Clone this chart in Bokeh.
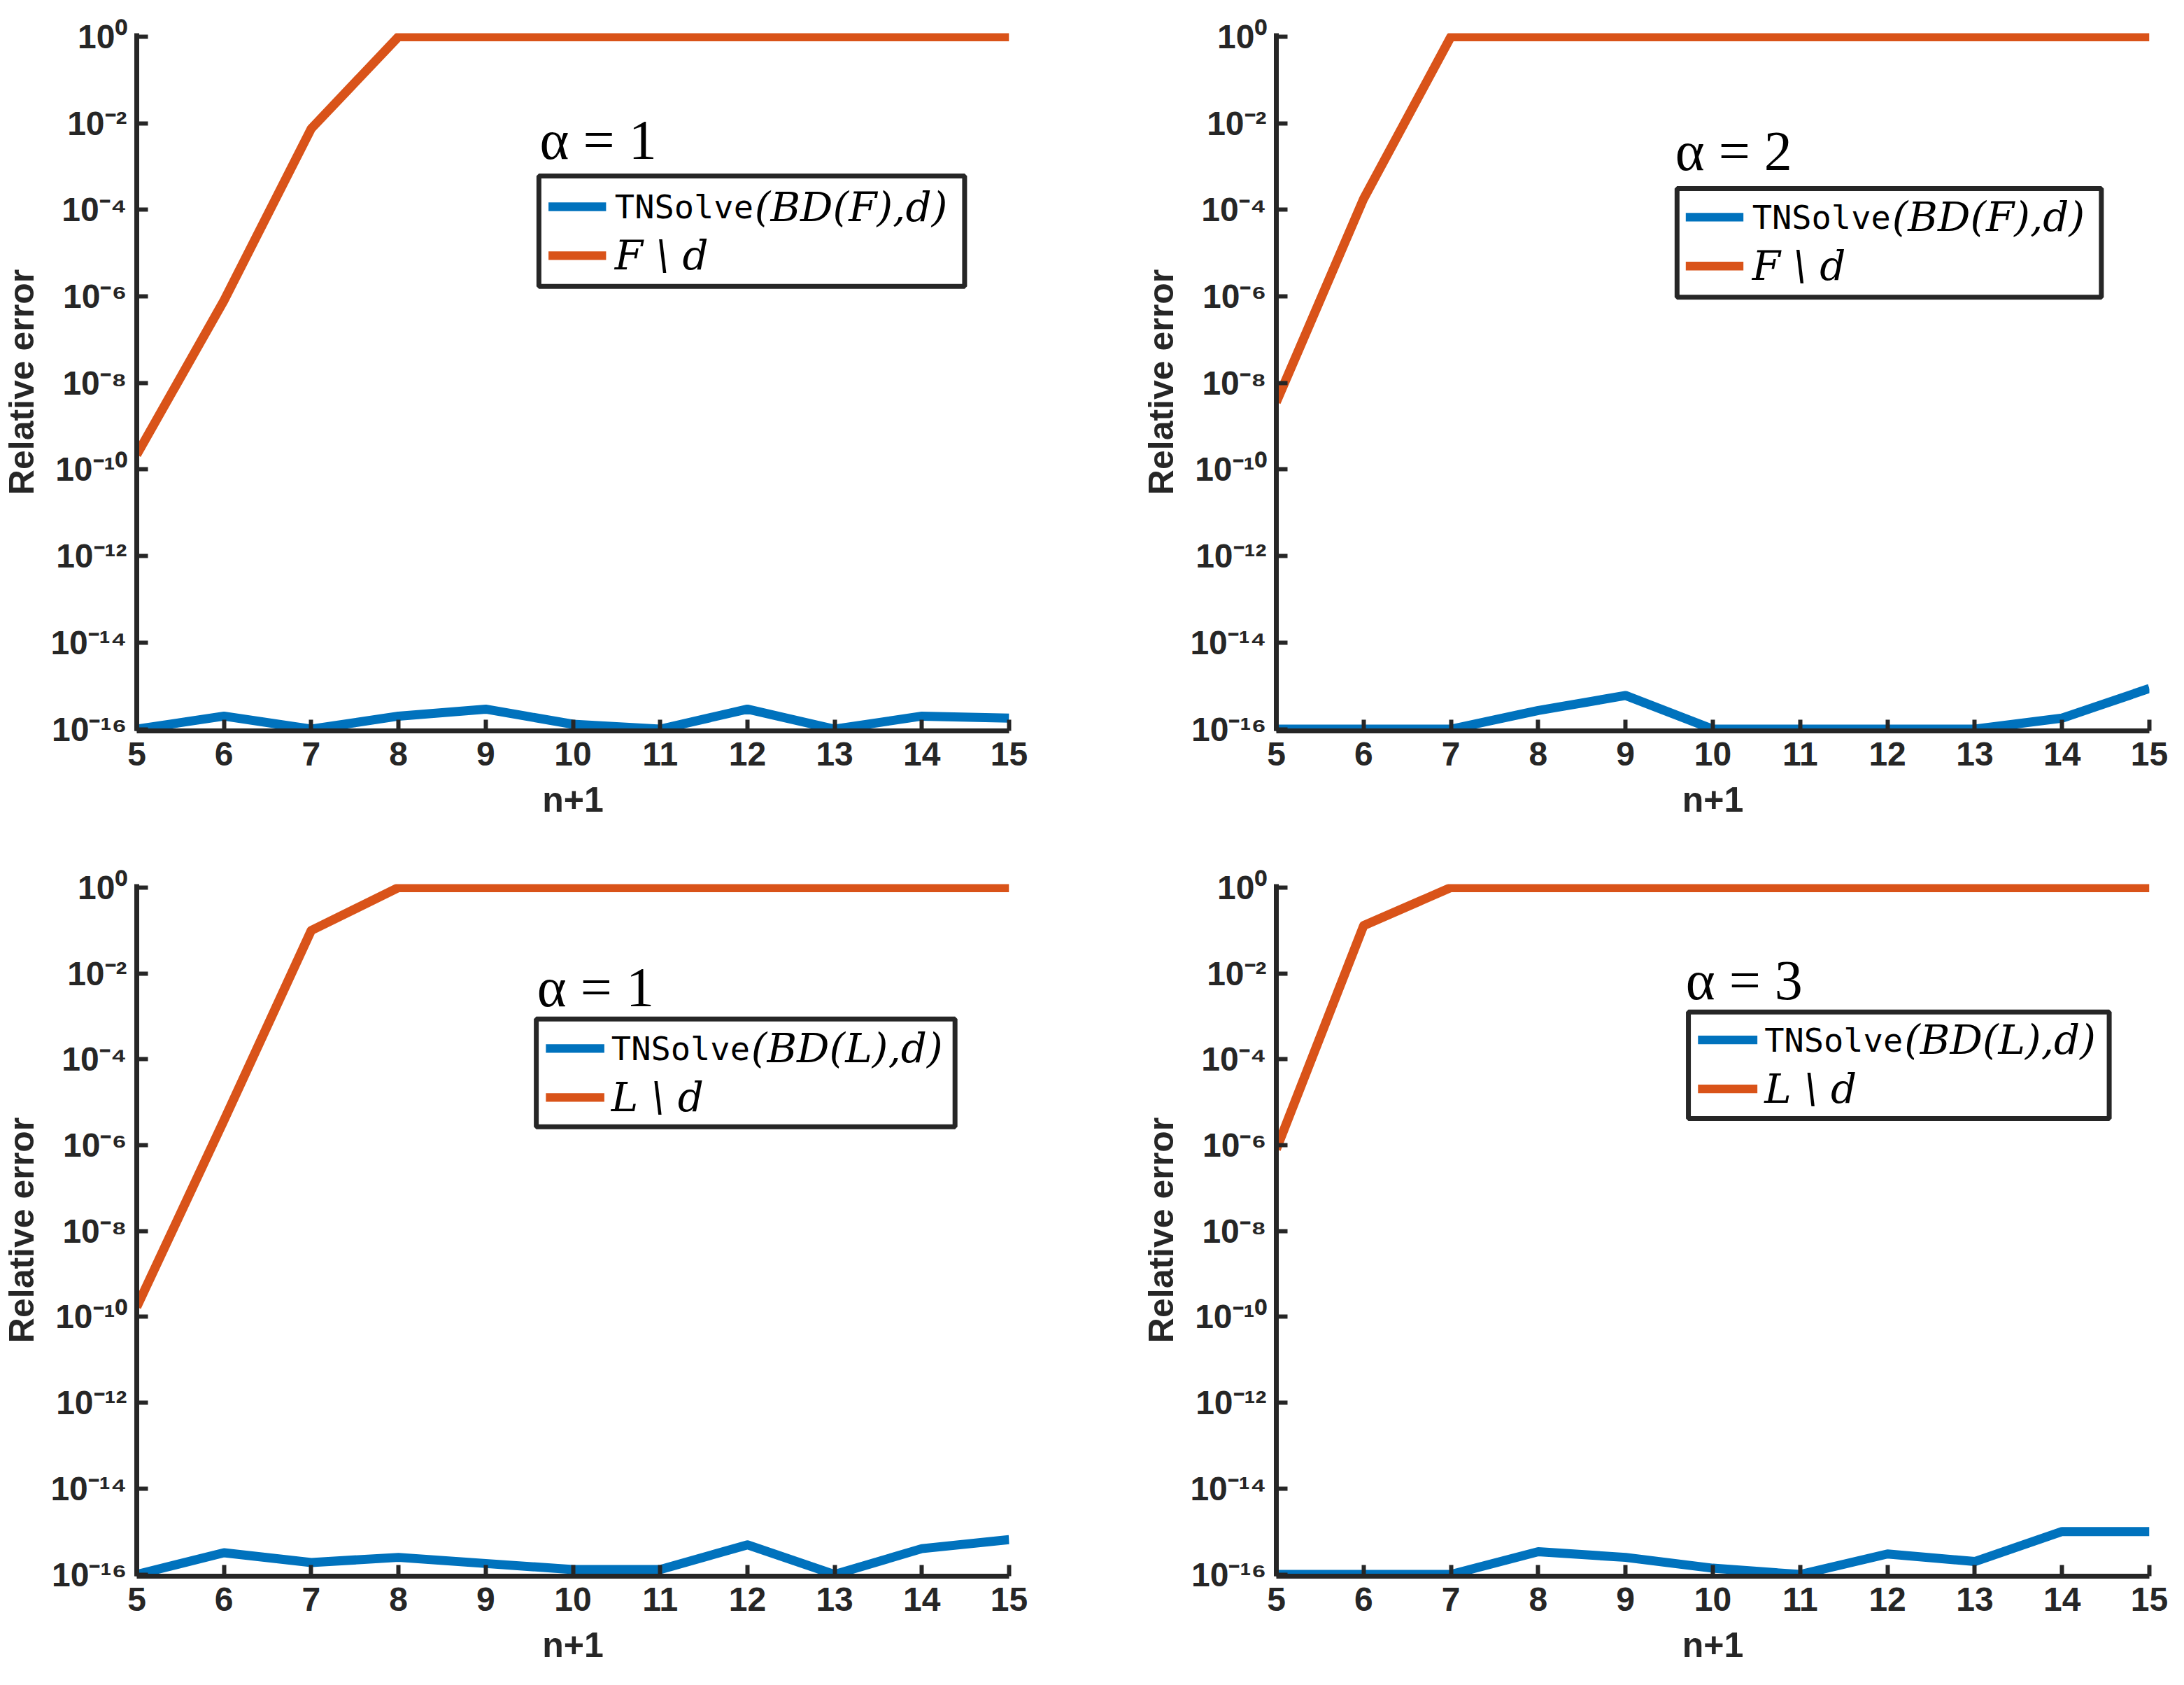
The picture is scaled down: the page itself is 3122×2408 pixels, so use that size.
from bokeh.plotting import figure
from bokeh.models import Range1d, FixedTicker, CustomJSTickFormatter, Label, BoxAnnotation
from bokeh.layouts import column, row
from bokeh.embed import file_html
from bokeh.resources import INLINE

# ---------------- data ----------------
n_plus_1 = [5, 6, 7, 8, 9, 10, 11, 12, 13, 14, 15]

tl_tnsolve = [1.0e-16, 2.0e-16, 1.0e-16, 2.0e-16, 2.9e-16, 1.3e-16, 1.0e-16, 2.9e-16, 1.0e-16, 2.0e-16, 1.8e-16]
tl_direct = [2.2e-10, 8.0e-7, 7.5e-3, 1, 1, 1, 1, 1, 1, 1, 1]

tr_tnsolve = [1.0e-16, 1.0e-16, 1.0e-16, 2.7e-16, 6.0e-16, 1.0e-16, 1.0e-16, 1.0e-16, 1.0e-16, 1.8e-16, 8.7e-16]
tr_direct = [3.6e-9, 1.8e-4, 1, 1, 1, 1, 1, 1, 1, 1, 1]

bl_tnsolve = [1.0e-16, 3.2e-16, 1.9e-16, 2.5e-16, 1.8e-16, 1.3e-16, 1.3e-16, 4.9e-16, 1.0e-16, 4.0e-16, 6.5e-16]
bl_direct = [1.7e-10, 3.8e-6, 1.0e-1, 1, 1, 1, 1, 1, 1, 1, 1]

br_tnsolve = [1.0e-16, 1.0e-16, 1.0e-16, 3.4e-16, 2.5e-16, 1.4e-16, 1.0e-16, 3.0e-16, 2.0e-16, 1.0e-15, 1.0e-15]
br_direct = [8.0e-7, 1.3e-1, 1, 1, 1, 1, 1, 1, 1, 1, 1]

y_ticks = [1e-16, 1e-14, 1e-12, 1e-10, 1e-8, 1e-6, 1e-4, 1e-2, 1e0]

alpha_texts = ["α = 1", "α = 2", "α = 1", "α = 3"]
matrix_names = ["F", "F", "L", "L"]

BLUE = "#0072BD"
ORANGE = "#D95319"
AX = "#262626"

sup_js = """
const sup = {'-':'\u207b','0':'\u2070','1':'\u00b9','2':'\u00b2','3':'\u00b3','4':'\u2074',
             '5':'\u2075','6':'\u2076','7':'\u2077','8':'\u2078','9':'\u2079'};
const e = Math.round(Math.log10(tick));
return '10' + String(e).split('').map(c => sup[c]).join('');
"""


def make_panel(tn, direct, alpha_text, mat, width, height, borders, leg):
    bl, br, bt, bb = borders
    p = figure(width=width, height=height, output_backend="svg", toolbar_location=None,
               y_axis_type="log",
               x_range=Range1d(5, 15), y_range=Range1d(10 ** -16.04, 10 ** 0.08),
               min_border_left=bl, min_border_right=br, min_border_top=bt, min_border_bottom=bb)
    p.outline_line_color = None
    p.grid.visible = False
    p.background_fill_color = "white"
    p.border_fill_color = "white"

    p.line(n_plus_1, direct, line_color=ORANGE, line_width=13, line_join="round")
    p.line(n_plus_1, tn, line_color=BLUE, line_width=13, line_join="round")

    p.xaxis.ticker = FixedTicker(ticks=n_plus_1, minor_ticks=[])
    p.yaxis.ticker = FixedTicker(ticks=y_ticks, minor_ticks=[])
    p.yaxis.formatter = CustomJSTickFormatter(code=sup_js)

    for ax in (p.xaxis, p.yaxis):
        ax.axis_line_width = 7
        ax.axis_line_color = AX
        ax.major_tick_line_width = 6
        ax.major_tick_line_color = AX
        ax.major_tick_in = 16
        ax.major_tick_out = 0
        ax.minor_tick_in = 0
        ax.minor_tick_out = 0
        ax.major_label_text_font = "Liberation Sans"
        ax.major_label_text_font_style = "bold"
        ax.major_label_text_font_size = "48px"
        ax.major_label_text_color = AX
        ax.axis_label_text_font = "Liberation Sans"
        ax.axis_label_text_font_style = "bold"
        ax.axis_label_text_font_size = "50px"
        ax.axis_label_text_color = AX
    p.xaxis.major_label_standoff = 16
    p.yaxis.major_label_standoff = 14
    p.xaxis.axis_label = "n+1"
    p.yaxis.axis_label = "Relative error"
    p.xaxis.axis_label_standoff = 18
    p.yaxis.axis_label_standoff = 10

    # title text alpha = k
    p.add_layout(Label(x=leg["ax"], y=10 ** (leg["ay"] + 0.3), text=alpha_text,
                       text_font="Liberation Serif", text_font_size="80px",
                       text_color="black", text_baseline="alphabetic"))
    # legend frame
    p.add_layout(BoxAnnotation(left=leg["bl"], right=leg["br"],
                               top=10 ** leg["bt"], bottom=10 ** leg["bb"],
                               fill_color="white", fill_alpha=1.0,
                               line_color=AX, line_alpha=1.0, line_width=7, level="overlay"))
    # legend samples
    for r, col in zip(leg["rows"], [BLUE, ORANGE]):
        p.add_layout(BoxAnnotation(left=leg["s0"], right=leg["s1"],
                                   top=10 ** (r + 0.1), bottom=10 ** (r - 0.1),
                                   fill_color=col, fill_alpha=1.0, line_alpha=0,
                                   level="overlay"))
    r1, r2 = leg["rows"]
    p.add_layout(Label(x=leg["tx"], y=10 ** r1, text="TNSolve",
                       text_font="DejaVu Sans Mono", text_font_size="47px",
                       text_color="black", text_baseline="middle", level="overlay"))
    p.add_layout(Label(x=leg["tx"], y=10 ** r1, x_offset=200, text="(BD(%s),d)" % mat,
                       text_font="DejaVu Serif", text_font_style="italic", text_font_size="58px",
                       text_color="black", text_baseline="middle", level="overlay"))
    p.add_layout(Label(x=leg["tx"], y=10 ** r2, text="%s \\ d" % mat,
                       text_font="DejaVu Serif", text_font_style="italic", text_font_size="58px",
                       text_color="black", text_baseline="middle", level="overlay"))
    return p


legs = [
    dict(ax=9.62, ay=-2.69, bl=9.61, br=14.49, bt=-3.22, bb=-5.77, rows=(-3.93, -5.06), s0=9.72, s1=10.38, tx=10.48),
    dict(ax=9.57, ay=-2.94, bl=9.59, br=14.45, bt=-3.51, bb=-6.02, rows=(-4.17, -5.30), s0=9.69, s1=10.35, tx=10.45),
    dict(ax=9.59, ay=-2.62, bl=9.58, br=14.38, bt=-3.06, bb=-5.57, rows=(-3.75, -4.89), s0=9.69, s1=10.36, tx=10.44),
    dict(ax=9.69, ay=-2.46, bl=9.72, br=14.54, bt=-2.90, bb=-5.38, rows=(-3.55, -4.69), s0=9.83, s1=10.51, tx=10.59),
]

p1 = make_panel(tl_tnsolve, tl_direct, alpha_texts[0], matrix_names[0], 1560, 1208, (192, 118, 47, 164), legs[0])
p2 = make_panel(tr_tnsolve, tr_direct, alpha_texts[1], matrix_names[1], 1546, 1208, (264, 34, 47, 164), legs[1])
p3 = make_panel(bl_tnsolve, bl_direct, alpha_texts[2], matrix_names[2], 1560, 1184, (192, 118, 55, 140), legs[2])
p4 = make_panel(br_tnsolve, br_direct, alpha_texts[3], matrix_names[3], 1546, 1184, (264, 34, 55, 140), legs[3])

layout = column(row(p1, p2), row(p3, p4))
open("out.html", "w").write(file_html(layout, INLINE))
